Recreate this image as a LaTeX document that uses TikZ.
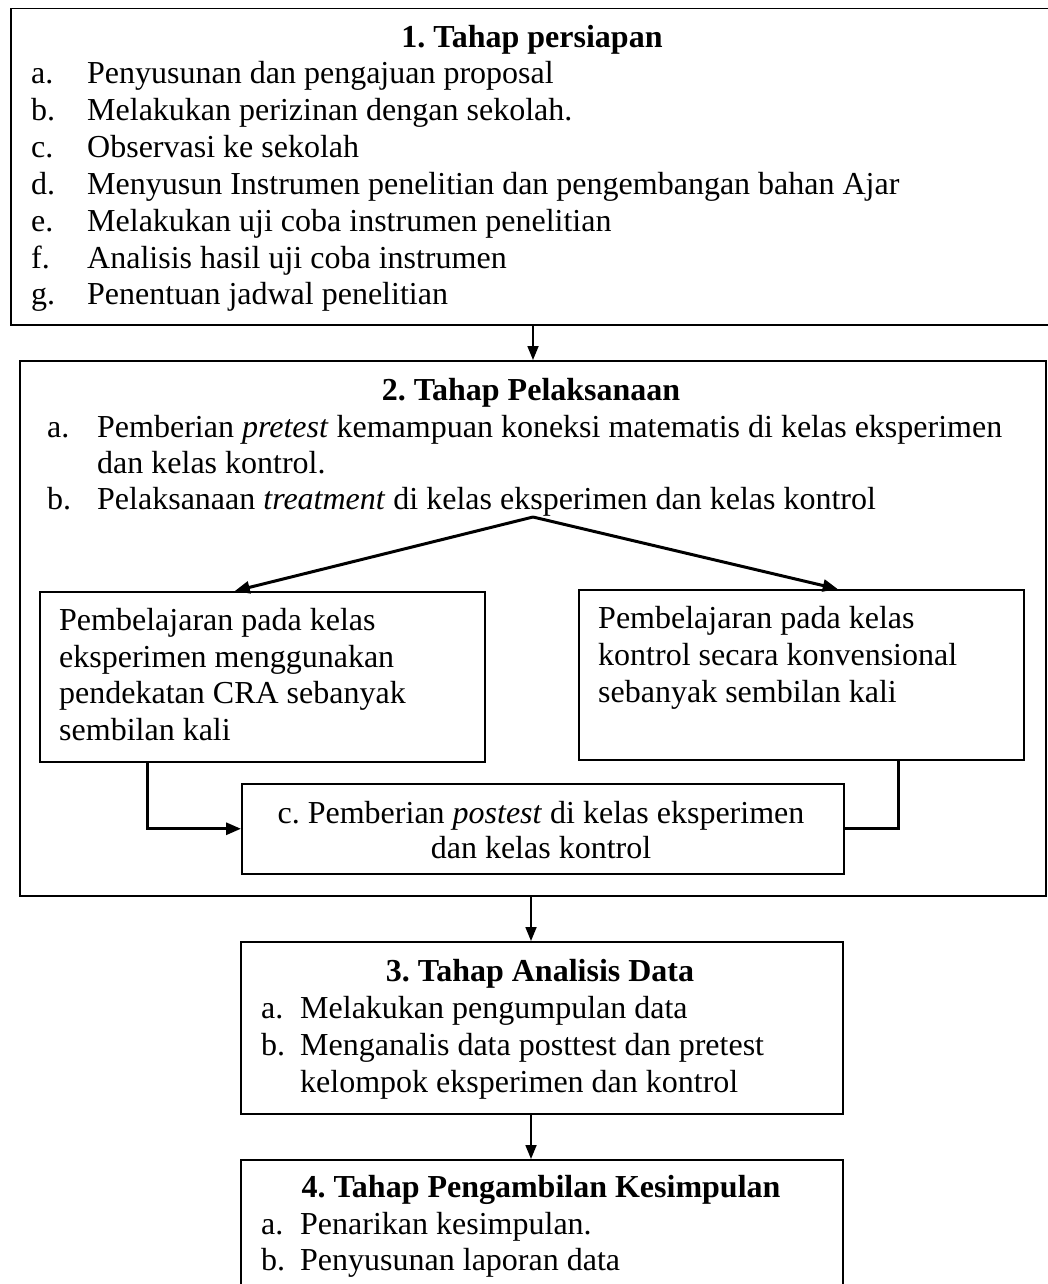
\documentclass[tikz,border=0pt]{standalone}
\usepackage{fontspec}
\setmainfont{Liberation Serif}
\usetikzlibrary{arrows.meta}
\frenchspacing
\begin{document}
\begin{tikzpicture}[x=1pt,y=-1pt,
  box/.style={draw, line width=1.5pt, inner sep=0, anchor=north west},
  txt/.style={inner sep=0, anchor=base west, font=\fontsize{32}{36}\selectfont},
  ctr/.style={inner sep=0, anchor=base, font=\fontsize{32}{36}\selectfont},
  ttl/.style={inner sep=0, anchor=base, font=\fontsize{32}{36}\selectfont\bfseries},
  arr/.style={line width=1.8pt, -{Triangle[length=14pt,width=11pt]}},
  arrb/.style={line width=3pt, -{Triangle[length=15pt,width=12pt]}},
  lineb/.style={line width=3pt},
]
\useasboundingbox (0,0) rectangle (1048,1284);
\fill[white] (0,0) rectangle (1048,1284);

% boxes
\node[box, minimum width=1050pt, minimum height=316pt] (b1) at (10,8) {};
\node[box, minimum width=1026pt, minimum height=535pt] (b2) at (19,360) {};
\node[box, minimum width=445pt, minimum height=170pt] (L) at (39,591) {};
\node[box, minimum width=445pt, minimum height=170pt] (R) at (578,589) {};
\node[box, minimum width=602pt, minimum height=90pt] (P) at (241,783) {};
\node[box, minimum width=602pt, minimum height=172pt] (b3) at (240,941) {};
\node[box, minimum width=602pt, minimum height=150pt] (b4) at (240,1159) {};

% box 1 text
\node[ttl] (t1) at (532,48) {1. Tahap persiapan};
\node[txt] (l1a) at (31,84) {a.};  \node[txt] (i1a) at (87,84) {Penyusunan dan pengajuan proposal};
\node[txt] (l1b) at (31,121) {b.}; \node[txt] (i1b) at (87,121) {Melakukan perizinan dengan sekolah.};
\node[txt] (l1c) at (31,158) {c.}; \node[txt] (i1c) at (87,158) {Observasi ke sekolah};
\node[txt] (l1d) at (31,195) {d.}; \node[txt] (i1d) at (87,195) {Menyusun Instrumen penelitian dan pengembangan bahan Ajar};
\node[txt] (l1e) at (31,231) {e.}; \node[txt] (i1e) at (87,231) {Melakukan uji coba instrumen penelitian};
\node[txt] (l1f) at (31,268) {f.};  \node[txt] (i1f) at (87,268) {Analisis hasil uji coba instrumen};
\node[txt] (l1g) at (31,304) {g.}; \node[txt] (i1g) at (87,304) {Penentuan jadwal penelitian};

% box 2 text
\node[ttl] (t2) at (531,400) {2. Tahap Pelaksanaan};
\node[txt] (l2a) at (47,437) {a.}; \node[txt] (i2a) at (97,437) {Pemberian \textit{pretest} kemampuan koneksi matematis di kelas eksperimen};
\node[txt] (i2a2) at (97,473) {dan kelas kontrol.};
\node[txt] (l2b) at (47,509) {b.}; \node[txt] (i2b) at (97,509) {Pelaksanaan \textit{treatment} di kelas eksperimen dan kelas kontrol};

% sub boxes text
\node[txt] (tl1) at (59,630) {Pembelajaran pada kelas};
\node[txt] (tl2) at (59,667) {eksperimen menggunakan};
\node[txt] (tl3) at (59,703) {pendekatan CRA sebanyak};
\node[txt] (tl4) at (59,740) {sembilan kali};
\node[txt] (tr1) at (598,628) {Pembelajaran pada kelas};
\node[txt] (tr2) at (598,665) {kontrol secara konvensional};
\node[txt] (tr3) at (598,702) {sebanyak sembilan kali};
\node[ctr] (tp1) at (541,823) {c. Pemberian \textit{postest} di kelas eksperimen};
\node[ctr] (tp2) at (541,858) {dan kelas kontrol};

% box 3 text
\node[ttl] (t3) at (540,981) {3. Tahap Analisis Data};
\node[txt] (l3a) at (261,1018) {a.}; \node[txt] (i3a) at (300,1018) {Melakukan pengumpulan data};
\node[txt] (l3b) at (261,1055) {b.}; \node[txt] (i3b) at (300,1055) {Menganalis data posttest dan pretest};
\node[txt] (i3b2) at (300,1092) {kelompok eksperimen dan kontrol};

% box 4 text
\node[ttl] (t4) at (541,1197) {4. Tahap Pengambilan Kesimpulan};
\node[txt] (l4a) at (261,1234) {a.}; \node[txt] (i4a) at (300,1234) {Penarikan kesimpulan.};
\node[txt] (l4b) at (261,1270) {b.}; \node[txt] (i4b) at (300,1270) {Penyusunan laporan data};

% connectors
\coordinate (xa) at (533,0);
\coordinate (xb) at (531,0);
\coordinate (split) at (533,517);
\draw[arr] (b1.south -| xa) -- (b2.north -| xa);
\draw[arrb] (split) -- ([xshift=-27.5pt]L.north);
\draw[arrb] (split) -- ([xshift=36.5pt]R.north);
\draw[arrb] ([xshift=-114.5pt]L.south) |- (P.west);
\draw[lineb] ([xshift=97.5pt]R.south) |- (P.east);
\draw[arr] (b2.south -| xb) -- (b3.north -| xb);
\draw[arr] (b3.south -| xb) -- (b4.north -| xb);
\end{tikzpicture}
\end{document}
